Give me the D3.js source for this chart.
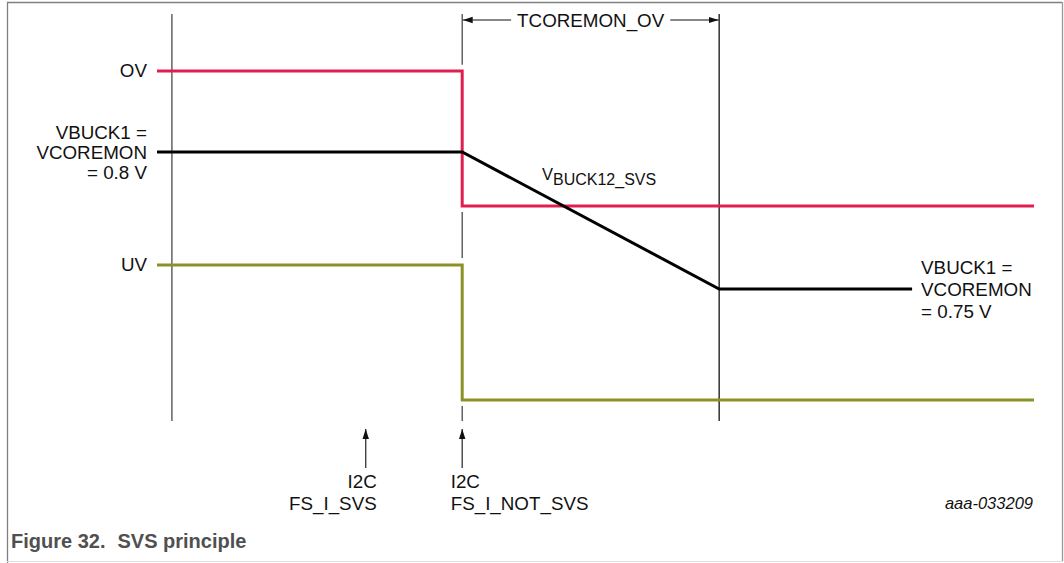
<!DOCTYPE html>
<html>
<head>
<meta charset="utf-8">
<script src="https://cdn.jsdelivr.net/npm/d3@7"></script>
<style>
  html, body { margin: 0; padding: 0; background: #fff; }
  svg { display: block; font-family: Arial, "Liberation Sans", Helvetica, sans-serif; }
</style>
</head>
<body>
<div id="chart"></div>
<script>
// ---- Data (time in arbitrary % units, levels in volts, illustrative) ----
const timeStart = 0, timeRef = 1.7, timeSvs = 23.8, timeNotSvs = 34.8, timeRampEnd = 64.1, timeVbuckEnd = 86.1, timeEnd = 100;

const ovSeries   = [[timeStart, 0.8296], [timeNotSvs, 0.8296], [timeNotSvs, 0.7803], [timeEnd, 0.7803]];
const vbuckSeries = [[timeStart, 0.80], [timeNotSvs, 0.80], [timeRampEnd, 0.75], [timeVbuckEnd, 0.75]];
const uvSeries   = [[timeStart, 0.7588], [timeNotSvs, 0.7588], [timeNotSvs, 0.7095], [timeEnd, 0.7095]];

const levelTop = 0.8504, levelBottom = 0.7018;
// vertical reference markers: [time, [from, to] segments, colour]
const markerRef     = { t: timeRef,     segs: [[levelTop, levelBottom]] };
const markerNotSvs  = { t: timeNotSvs,  segs: [[levelTop, 0.8318], [0.7781, 0.7613], [0.7073, levelBottom]] };
const markerRampEnd = { t: timeRampEnd, segs: [[levelTop, levelBottom]] };

const levelLabels = [
  { v: 0.8296, lines: ["OV"] },
  { v: 0.80,   lines: ["VBUCK1 =", "VCOREMON", "= 0.8 V"] },
  { v: 0.7588, lines: ["UV"] }
];
const endLabelLines = ["VBUCK1 =", "VCOREMON", "= 0.75 V"];
const eventLabels = [
  { t: timeSvs,    lines: ["I2C", "FS_I_SVS"],     anchor: "end" },
  { t: timeNotSvs, lines: ["I2C", "FS_I_NOT_SVS"], anchor: "start" }
];
const spanLabel = "TCOREMON_OV";
const figureId = "aaa-033209";
const captionNum = "Figure 32.";
const captionText = "SVS principle";

// ---- Layout ----
const W = 1064, H = 563;
const svg = d3.select("#chart").append("svg").attr("width", W).attr("height", H);

const x = d3.scaleLinear().domain([0, 100]).range([157, 1034]);
const y = d3.scaleLinear().domain([0.75, 0.80]).range([289, 152]);

const RED = "#e21d50", OLIVE = "#8c9126", BLACK = "#000";

// frame
svg.append("line").attr("x1", 7).attr("x2", 1062).attr("y1", 2.5).attr("y2", 2.5).attr("stroke", "#808080").attr("stroke-width", 1.3);
svg.append("line").attr("x1", 7.5).attr("x2", 7.5).attr("y1", 2).attr("y2", 563).attr("stroke", "#808080").attr("stroke-width", 1.3);
svg.append("line").attr("x1", 1062.5).attr("x2", 1062.5).attr("y1", 2).attr("y2", 561).attr("stroke", "#999").attr("stroke-width", 1.3);
svg.append("line").attr("x1", 7).attr("x2", 1063).attr("y1", 561.5).attr("y2", 561.5).attr("stroke", "#e0e0e0").attr("stroke-width", 1);

// vertical markers
function drawMarker(m, color, w) {
  svg.append("g").selectAll("line").data(m.segs).join("line")
    .attr("x1", x(m.t)).attr("x2", x(m.t))
    .attr("y1", d => y(d[0])).attr("y2", d => y(d[1]))
    .attr("stroke", color).attr("stroke-width", w);
}
drawMarker(markerRef, "#4a4a4a", 1.3);
drawMarker(markerNotSvs, "#4a4a4a", 1.3);
drawMarker(markerRampEnd, "#111", 1.3);

// series
const line = d3.line().x(d => x(d[0])).y(d => y(d[1]));
[[ovSeries, RED], [uvSeries, OLIVE], [vbuckSeries, BLACK]].forEach(([s, c]) => {
  svg.append("path").attr("d", line(s)).attr("fill", "none").attr("stroke", c)
    .attr("stroke-width", 3).attr("stroke-linejoin", "miter").attr("stroke-linecap", "butt");
});

// arrowheads
const defs = svg.append("defs");
defs.append("marker").attr("id", "ah").attr("viewBox", "0 0 10 10").attr("refX", 10).attr("refY", 5)
  .attr("markerWidth", 10).attr("markerHeight", 10).attr("markerUnits", "userSpaceOnUse").attr("orient", "auto")
  .append("path").attr("d", "M0,1.8 L10,5 L0,8.2 Z").attr("fill", "#111");

const FS = 18.8;
// span label on top
const spanY = 20;
const spanMid = (x(timeNotSvs) + x(timeRampEnd)) / 2;
const spanText = svg.append("text").attr("x", spanMid).attr("y", spanY).attr("dy", "0.35em")
  .attr("text-anchor", "middle").attr("font-size", FS).attr("fill", "#111").text(spanLabel);
const tw = spanText.node().getComputedTextLength();
svg.append("line").attr("x1", spanMid - tw / 2 - 6).attr("x2", x(timeNotSvs) + 0.5).attr("y1", spanY).attr("y2", spanY)
  .attr("stroke", "#111").attr("stroke-width", 1.2).attr("marker-end", "url(#ah)");
svg.append("line").attr("x1", spanMid + tw / 2 + 6).attr("x2", x(timeRampEnd) - 0.5).attr("y1", spanY).attr("y2", spanY)
  .attr("stroke", "#111").attr("stroke-width", 1.2).attr("marker-end", "url(#ah)");

// level labels on the left
levelLabels.forEach(l => {
  const n = l.lines.length, lh = 20;
  const t = svg.append("text").attr("text-anchor", "end").attr("font-size", FS).attr("fill", "#111");
  l.lines.forEach((s, i) => {
    t.append("tspan").attr("x", 147).attr("y", y(l.v) + (i - (n - 1) / 2) * lh).attr("dy", "0.35em").text(s);
  });
});

// end label on the right
{
  const t = svg.append("text").attr("text-anchor", "start").attr("font-size", FS).attr("fill", "#111");
  endLabelLines.forEach((s, i) => {
    t.append("tspan").attr("x", x(timeVbuckEnd) + 9).attr("y", y(0.75) + (i - 1) * 22).attr("dy", "0.35em").text(s);
  });
}

// V_BUCK12_SVS label
{
  const t = svg.append("text").attr("x", 542).attr("y", 180).attr("font-size", 16.5).attr("fill", "#111");
  t.append("tspan").text("V");
  t.append("tspan").attr("dy", 5).attr("font-size", 16).text("BUCK12_SVS");
}

// event arrows & labels at bottom
eventLabels.forEach(e => {
  svg.append("line").attr("x1", x(e.t)).attr("x2", x(e.t)).attr("y1", 468).attr("y2", 429)
    .attr("stroke", "#333").attr("stroke-width", 1.3).attr("marker-end", "url(#ah)");
  const ax = e.anchor === "end" ? x(e.t) + 11 : x(e.t) - 11.5;
  const t = svg.append("text").attr("text-anchor", e.anchor).attr("font-size", FS).attr("fill", "#111");
  e.lines.forEach((s, i) => {
    t.append("tspan").attr("x", ax).attr("y", 481 + i * 22).attr("dy", "0.35em").text(s);
  });
});

// figure id
svg.append("text").attr("x", 1033).attr("y", 503).attr("dy", "0.35em").attr("text-anchor", "end")
  .attr("font-size", 16.5).attr("font-style", "italic").attr("fill", "#111").text(figureId);

// caption
{
  const t = svg.append("text").attr("y", 541).attr("dy", "0.35em").attr("font-size", 20)
    .attr("font-weight", "bold").attr("fill", "#505050");
  t.append("tspan").attr("x", 11).text(captionNum);
  t.append("tspan").attr("dx", 12).text(captionText);
}
</script>
</body>
</html>
